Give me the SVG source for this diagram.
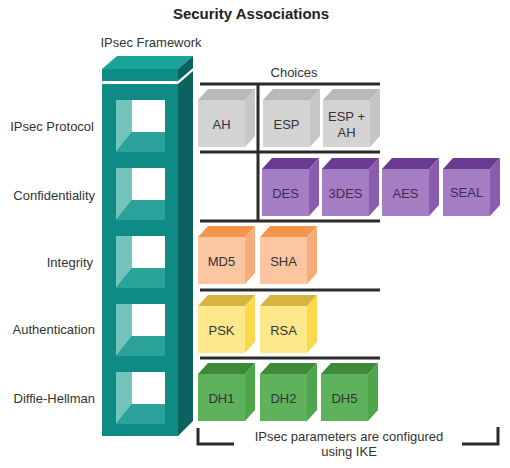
<svg xmlns="http://www.w3.org/2000/svg" width="510" height="468" viewBox="0 0 510 468">
<style>
text{font-family:"Liberation Sans",Arial,sans-serif;fill:#333}
.title{font-size:15px;font-weight:bold;fill:#222}
.lbl{font-size:13px;text-anchor:end}
.hd{font-size:13px;text-anchor:middle}
.ct{font-size:13px;text-anchor:middle}
.pc{fill:#3d2b55}
.bar{stroke:#2b2b2b;stroke-width:3;fill:none}
.tf{fill:#0f8b85}.ts{fill:#0b625e}.tt{fill:#1aa39b}
.wl{fill:#74c4be}.wb{fill:#2aa199}.ww{fill:#fff}
.gf{fill:#d3d3d3}.gt{fill:#b9b9b9}.gs{fill:#c6c6c6}
.pf{fill:#a47dc3}.pt{fill:#6b3b91}.ps{fill:#8a5cae}
.of{fill:#fbc6a0}.ot{fill:#f4954b}.os{fill:#f8ad78}
.yf{fill:#fde98c}.yt{fill:#d6b43f}.ys{fill:#fcd94a}
.nf{fill:#5eb25b}.nt{fill:#3c8a37}.ns{fill:#4fa64a}
</style>
<defs>
<g id="cg"><rect class="gf" width="47" height="47"/><polygon class="gt" points="0,0 10,-11 57,-11 47,0"/><polygon class="gs" points="47,0 57,-11 57,36 47,47"/></g>
<g id="cp"><rect class="pf" width="47" height="47"/><polygon class="pt" points="0,0 10,-11 57,-11 47,0"/><polygon class="ps" points="47,0 57,-11 57,36 47,47"/></g>
<g id="co"><rect class="of" width="47" height="47"/><polygon class="ot" points="0,0 10,-11 57,-11 47,0"/><polygon class="os" points="47,0 57,-11 57,36 47,47"/></g>
<g id="cy"><rect class="yf" width="47" height="47"/><polygon class="yt" points="0,0 10,-11 57,-11 47,0"/><polygon class="ys" points="47,0 57,-11 57,36 47,47"/></g>
<g id="cn"><rect class="nf" width="47" height="47"/><polygon class="nt" points="0,0 10,-11 57,-11 47,0"/><polygon class="ns" points="47,0 57,-11 57,36 47,47"/></g>
<g id="win">
<rect class="ww" x="132" y="0" width="33" height="32"/>
<polygon class="wl" points="116,0 132,0 132,32 116,52"/>
<polygon class="wb" points="116,52 132,32 165,32 165,52"/>
</g>
</defs>

<text class="title" x="251" y="19" text-anchor="middle">Security Associations</text>
<text class="hd" x="151" y="47">IPsec Framework</text>
<text class="hd" x="294" y="77">Choices</text>

<g id="tower">
<polygon class="tt" points="102,69 178,69 193,56 117,56"/>
<rect class="tf" x="102" y="69" width="76" height="12"/>
<polygon class="ts" points="178,69 193,56 193,68 178,81"/>
<polygon class="ts" points="178,84 193,71 193,421 178,436"/>
<rect class="tf" x="102" y="84" width="76" height="352"/>
<use href="#win" y="100"/>
<use href="#win" y="168"/>
<use href="#win" y="236"/>
<use href="#win" y="304"/>
<use href="#win" y="372"/>
</g>

<g id="labels">
<text class="lbl" x="94" y="131">IPsec Protocol</text>
<text class="lbl" x="95" y="200">Confidentiality</text>
<text class="lbl" x="93" y="267">Integrity</text>
<text class="lbl" x="95" y="334">Authentication</text>
<text class="lbl" x="95" y="403">Diffie-Hellman</text>
</g>

<g id="connectors">
<line class="bar" x1="200" y1="84" x2="380" y2="84"/>
<line class="bar" x1="200" y1="152" x2="380" y2="152"/>
<line class="bar" x1="200" y1="221" x2="380" y2="221"/>
<line class="bar" x1="200" y1="290" x2="380" y2="290"/>
<line class="bar" x1="200" y1="358" x2="380" y2="358"/>
<line class="bar" x1="258" y1="84" x2="258" y2="221"/>
<polyline class="bar" points="198,428 198,444 234,444"/>
<polyline class="bar" points="462,444 498,444 498,427"/>
</g>

<g id="ah" transform="translate(198,100)"><use href="#cg"/><text class="ct" x="23.5" y="29">AH</text></g>
<g id="esp" transform="translate(263,100)"><use href="#cg"/><text class="ct" x="23.5" y="29">ESP</text></g>
<g id="espah" transform="translate(323,100)"><use href="#cg"/><text class="ct" x="23.5" y="21">ESP +</text><text class="ct" x="23.5" y="37">AH</text></g>

<g id="des" transform="translate(262,169)"><use href="#cp"/><text class="ct pc" x="23.5" y="29">DES</text></g>
<g id="des3" transform="translate(322,169)"><use href="#cp"/><text class="ct pc" x="23.5" y="29">3DES</text></g>
<g id="aes" transform="translate(382,169)"><use href="#cp"/><text class="ct pc" x="23.5" y="29">AES</text></g>
<g id="seal" transform="translate(443,169)"><use href="#cp"/><text class="ct pc" x="23.5" y="28">SEAL</text></g>

<g id="md5" transform="translate(198,237)"><use href="#co"/><text class="ct" x="23.5" y="29">MD5</text></g>
<g id="sha" transform="translate(260,237)"><use href="#co"/><text class="ct" x="23.5" y="29">SHA</text></g>

<g id="psk" transform="translate(198,306)"><use href="#cy"/><text class="ct" x="23.5" y="29">PSK</text></g>
<g id="rsa" transform="translate(260,306)"><use href="#cy"/><text class="ct" x="23.5" y="29">RSA</text></g>

<g id="dh1" transform="translate(198,374)"><use href="#cn"/><text class="ct" x="23.5" y="29">DH1</text></g>
<g id="dh2" transform="translate(260,374)"><use href="#cn"/><text class="ct" x="23.5" y="29">DH2</text></g>
<g id="dh5" transform="translate(321,374)"><use href="#cn"/><text class="ct" x="23.5" y="29">DH5</text></g>

<g id="note">
<text class="hd" x="349" y="441">IPsec parameters are configured</text>
<text class="hd" x="349" y="456">using IKE</text>
</g>
</svg>
